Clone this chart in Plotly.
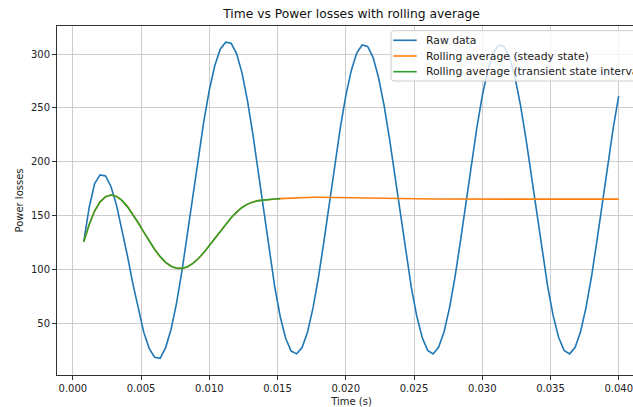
import plotly.graph_objects as go

# Sample times (s)
time_s = [
    0.0008, 0.0012, 0.0016, 0.0020, 0.0024, 0.0028, 0.0032, 0.0036, 0.0040, 0.0044,
    0.0048, 0.0052, 0.0056, 0.0060, 0.0064, 0.0068, 0.0072, 0.0076, 0.0080, 0.0084,
    0.0088, 0.0092, 0.0096, 0.0100, 0.0104, 0.0108, 0.0112, 0.0116, 0.0120, 0.0124,
    0.0128, 0.0132, 0.0136, 0.0140, 0.0144, 0.0148, 0.0152, 0.0156, 0.0160, 0.0164,
    0.0168, 0.0172, 0.0176, 0.0180, 0.0184, 0.0188, 0.0192, 0.0196, 0.0200, 0.0204,
    0.0208, 0.0212, 0.0216, 0.0220, 0.0224, 0.0228, 0.0232, 0.0236, 0.0240, 0.0244,
    0.0248, 0.0252, 0.0256, 0.0260, 0.0264, 0.0268, 0.0272, 0.0276, 0.0280, 0.0284,
    0.0288, 0.0292, 0.0296, 0.0300, 0.0304, 0.0308, 0.0312, 0.0316, 0.0320, 0.0324,
    0.0328, 0.0332, 0.0336, 0.0340, 0.0344, 0.0348, 0.0352, 0.0356, 0.0360, 0.0364,
    0.0368, 0.0372, 0.0376, 0.0380, 0.0384, 0.0388, 0.0392, 0.0396, 0.0400,
]

# Raw power losses
raw_power = [
    126, 158, 180, 188, 187, 177, 160, 138, 113, 87, 63, 42, 27, 19, 18,
    27.9, 44.9, 69.2, 99.2, 133.2, 169.0, 204.6, 237.8, 266.6, 289.1, 304.5, 311, 310,
    300.4, 282.3, 256.6, 225.0, 189.6, 152.6, 116.6, 83.8, 56.5, 36.3, 24.7,
    22.1, 28.0, 42.4, 64.7, 93.1, 126.3, 161.9, 197.6, 231.5, 261.2, 284.6, 300.9, 308.4,
    307.1, 296.9, 278.3, 252.8, 221.8, 187.1, 151.1, 116.1, 84.0, 57.3, 37.2, 25.3,
    22.0, 28.1, 42.4, 64.6, 93.0, 126.2, 161.9, 197.6, 231.4, 261.1, 284.6, 300.8, 308.3,
    307.1, 296.9, 278.3, 252.8, 221.8, 187.1, 151.2, 116.2, 84.1, 57.3, 37.2, 25.3,
    22.1, 28.0, 42.4, 64.7, 93.1, 126.3, 161.9, 197.6, 231.5, 261.2,
]

# Rolling average, transient interval
transient_avg = [
    126, 142, 154.7, 163, 167.8, 169.3, 168, 164.3, 158.6, 151.4, 143.4, 134.9, 126.6,
    118.9, 112.2, 106.9, 103.3, 101.4, 101.3, 102.9, 106, 110.5, 116, 122.3, 129, 135.7,
    142.2, 148.2, 153.5, 157.8, 160.9, 162.9, 164.1, 164.8, 165.3, 165.7, 166.0,
]

# Rolling average, steady state (after the transient part)
steady_avg_tail = [
    166.3, 166.6, 166.9, 167.1, 167.2, 167.2, 167.2, 167.1, 167.0, 166.9, 166.8, 166.6,
    166.5, 166.4, 166.3, 166.2, 166.1, 166.0, 165.9, 165.9, 165.8, 165.8, 165.7, 165.7,
    165.7, 165.6, 165.6, 165.6, 165.6, 165.6, 165.6, 165.6,
    165.5, 165.5, 165.5, 165.5, 165.5, 165.5, 165.5, 165.5, 165.5, 165.5,
    165.5, 165.5, 165.5, 165.5, 165.5, 165.5, 165.5, 165.5, 165.5, 165.5,
    165.5, 165.5, 165.5, 165.5, 165.5, 165.5, 165.5, 165.5, 165.5, 165.5,
]
steady_avg = transient_avg + steady_avg_tail
transient_time = time_s[:len(transient_avg)]

series_names = ["Raw data", "Rolling average (steady state)",
                "Rolling average (transient state interval)"]
series_colors = ["#1f77b4", "#ff7f0e", "#2ca02c"]

fig = go.Figure()
fig.add_trace(go.Scatter(x=time_s, y=raw_power, mode="lines", name=series_names[0],
                         line=dict(color=series_colors[0], width=1.6), showlegend=False))
fig.add_trace(go.Scatter(x=time_s, y=steady_avg, mode="lines", name=series_names[1],
                         line=dict(color=series_colors[1], width=1.6), showlegend=False))
fig.add_trace(go.Scatter(x=transient_time, y=transient_avg, mode="lines", name=series_names[2],
                         line=dict(color=series_colors[2], width=1.6), showlegend=False))

W, H = 700, 407
L, R, T, B = 57, 54, 26, 32
PW, PH = W - L - R, H - T - B


def px(xp):
    return (xp - L) / PW


def py(yp):
    return (H - B - yp) / PH


# Legend drawn as a framed box with sample lines and real text labels
bx0, bx1, by0, by1 = 391, 700, 30.7, 81
rx, ry = 3 / PW, 3 / PH
legend_path = (f"M {px(bx0)+rx},{py(by0)} L {px(bx1)},{py(by0)} L {px(bx1)},{py(by1)} "
               f"L {px(bx0)+rx},{py(by1)} Q {px(bx0)},{py(by1)} {px(bx0)},{py(by1)+ry} "
               f"L {px(bx0)},{py(by0)-ry} Q {px(bx0)},{py(by0)} {px(bx0)+rx},{py(by0)} Z")
shapes = [dict(type="path", path=legend_path, xref="paper", yref="paper", layer="above",
               fillcolor="rgba(255,255,255,0.8)", line=dict(color="#cccccc", width=1))]
annotations = []
row_y = [40.3, 56.0, 71.7]
for name, color, yrow in zip(series_names, series_colors, row_y):
    shapes.append(dict(type="line", xref="paper", yref="paper", layer="above",
                       x0=px(393.3), x1=px(416.7), y0=py(yrow), y1=py(yrow),
                       line=dict(color=color, width=1.6)))
    annotations.append(dict(text=name, xref="paper", yref="paper", x=px(423.5),
                            y=py(yrow), xanchor="left", yanchor="middle", showarrow=False,
                            font=dict(size=10.8, color="#222")))

axis_common = dict(showgrid=True, gridcolor="rgb(205,205,205)", gridwidth=1,
                   showline=True, linecolor="rgb(50,50,50)", linewidth=1, mirror=True,
                   ticks="outside", ticklen=4, tickcolor="rgb(50,50,50)", zeroline=False,
                   tickfont=dict(size=10, color="#222"))
fig.update_layout(
    width=W, height=H,
    margin=dict(l=L, r=R, t=T, b=B, autoexpand=False),
    plot_bgcolor="white", paper_bgcolor="white",
    font=dict(family="DejaVu Sans", size=10, color="#222"),
    title=dict(text="Time vs Power losses with rolling average", x=0.5, xref="paper",
               xanchor="center", y=1 - 14 / H, yref="container", yanchor="middle",
               font=dict(size=12.3, color="#111")),
    shapes=shapes,
    annotations=annotations,
    showlegend=False,
)
fig.update_xaxes(range=[-0.00116, 0.0420], tick0=0, dtick=0.005, tickformat=".3f",
                 title=dict(text="Time (s)", standoff=5, font=dict(size=10)), **axis_common)
fig.update_yaxes(range=[2.5, 326], tick0=0, dtick=50,
                 title=dict(text="Power losses", standoff=5, font=dict(size=10)), **axis_common)

fig.write_html("out.html",
               post_script="document.documentElement.style.overflow='hidden';document.body.style.overflow='hidden';")
